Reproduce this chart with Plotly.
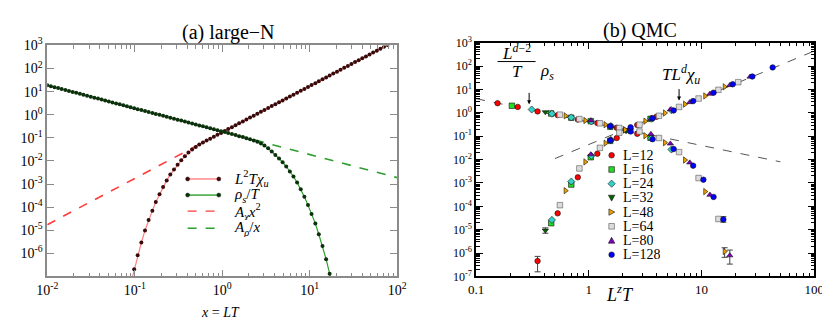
import math
import plotly.graph_objects as go

# ---------------- Panel (a): large-N ----------------
x_grid = [0.01, 0.011, 0.0121, 0.0133, 0.0146, 0.0161, 0.0177, 0.0195, 0.0214, 0.0236,
          0.0259, 0.0285, 0.0314, 0.0345, 0.038, 0.0418, 0.0459, 0.0505, 0.0556, 0.0612,
          0.0673, 0.074, 0.0814, 0.0895, 0.0985, 0.108, 0.119, 0.131, 0.144, 0.159,
          0.174, 0.192, 0.211, 0.232, 0.255, 0.281, 0.309, 0.34, 0.374, 0.411,
          0.453, 0.498, 0.547, 0.602, 0.662, 0.729, 0.802, 0.882, 0.97, 1.07,
          1.17, 1.29, 1.42, 1.56, 1.72, 1.89, 2.08, 2.29, 2.52, 2.77,
          3.04, 3.35, 3.68, 4.05, 4.46, 4.9, 5.39, 5.93, 6.52, 7.18,
          7.9, 8.69, 9.56, 10.5, 11.6, 12.7, 14.0, 15.4, 16.9, 18.6,
          20.5, 22.5, 24.8, 27.3, 30.0, 33.0, 36.3, 39.9, 43.9, 48.3,
          53.1, 58.5, 64.3, 70.7, 77.8]

# log10 of L^2 T chi_u
chi_log = [None] * 23 + [
    -7.35, -6.69, -6.08, -5.53, -5.01, -4.56, -4.15, -3.78, -3.44, -3.13,
    -2.84, -2.59, -2.37, -2.16, -1.97, -1.80, -1.63, -1.50, -1.39, -1.29,
    -1.20, -1.115, -1.033, -0.950, -0.867, -0.784, -0.702, -0.619, -0.536, -0.453,
    -0.370, -0.288, -0.205, -0.122, -0.039, 0.044, 0.126, 0.209, 0.292, 0.375,
    0.458, 0.540, 0.623, 0.706, 0.789, 0.871, 0.954, 1.037, 1.120, 1.203,
    1.285, 1.368, 1.451, 1.534, 1.617, 1.699, 1.782, 1.865, 1.948, 2.030,
    2.113, 2.196, 2.279, 2.362, 2.444, 2.527, 2.610, 2.693, 2.776, 2.858,
    2.941, 3.024]

# log10 of rho_s / T
rho_log = [
    1.279, 1.238, 1.196, 1.155, 1.113, 1.072, 1.031, 0.989, 0.948, 0.906,
    0.865, 0.824, 0.782, 0.741, 0.700, 0.658, 0.617, 0.575, 0.534, 0.493,
    0.451, 0.410, 0.368, 0.327, 0.286, 0.244, 0.203, 0.161, 0.120, 0.079,
    0.037, -0.004, -0.046, -0.087, -0.128, -0.170, -0.211, -0.253, -0.294, -0.335,
    -0.377, -0.418, -0.459, -0.501, -0.542, -0.584, -0.625, -0.666, -0.708, -0.749,
    -0.791, -0.832, -0.873, -0.925, -0.966, -1.013, -1.059, -1.110, -1.172, -1.243,
    -1.335, -1.446, -1.59, -1.74, -1.89, -2.05, -2.24, -2.45, -2.67, -2.93,
    -3.22, -3.55, -3.91, -4.29, -4.71, -5.17, -5.68, -6.25, -6.88, -7.55] + [None] * 15

achi_x = [0.01, 0.6]
achi_y = [1.75e-5, 0.063]
arho_x = [1.5, 100]
arho_y = [0.127, 0.0019]

# ---------------- Panel (b): QMC (log10 values) ----------------
L12_logx = [-0.81, -0.631, -0.455, -0.277, -0.098, 0.075, 0.247, 0.429, 0.60]
L12_rho = [0.41, 0.25, 0.06, -0.10, -0.29, -0.44, -0.64, -0.90, None]
L12_chi = [None, None, -6.34, -4.30, -2.76, -1.75, -1.08, -0.52, -0.17]

L16_logx = [-0.683, -0.334, -0.156, 0.017, 0.19, 0.547]
L16_rho = [0.30, -0.03, -0.21, -0.36, -0.60, -1.07]
L16_chi = [None, -4.72, -3.07, -1.90, -1.20, -0.26]

L24_logx = [-0.507, -0.328, -0.156, 0.022, 0.195, 0.553, 0.732]
L24_rho = [0.14, -0.04, -0.20, -0.37, -0.57, -1.09, -1.57]
L24_chi = [None, -4.58, -2.94, -1.84, -1.17, -0.25, 0.11]

L32_logx = [-0.386, 0.33]
L32_rho = [0.03, -0.74]
L32_chi = [-5.03, -0.78]

L48_logx = [-0.207, -0.032, 0.147, 0.32, 0.50, 0.674, 0.852, 1.031, 1.204]
L48_rho = [-0.13, -0.33, -0.51, -0.73, -0.98, -1.28, -2.02, -3.37, -5.93]
L48_chi = [-3.33, -2.10, -1.30, -0.73, -0.36, -0.01, 0.37, 0.72, 1.11]

L64_logx = [-0.257, -0.084, 0.098, 0.27, 0.449, 0.622, 0.80, 0.973, 1.149, 1.325]
L64_rho = [-0.08, -0.27, -0.45, -0.65, -0.80, -1.08, -1.68, -2.79, -4.54, None]
L64_chi = [-3.95, -2.38, -1.50, -0.85, -0.51, -0.13, 0.25, 0.61, 0.98, 1.31]

L80_logx = [0.017, 0.195, 0.37, 0.55, 0.723, 0.895, 1.074, 1.25, 1.43]
L80_rho = [-0.33, -0.57, -0.80, -0.91, -1.32, -2.13, -3.51, -6.10, None]
L80_chi = [-1.78, -1.14, -0.65, -0.27, 0.14, 0.45, 0.81, 1.18, 1.54]

L128_logx = [0.19, 0.37, 0.565, 0.752, 0.925, 1.016, 1.106, 1.193, 1.276, 1.45, 1.63]
L128_rho = [-0.58, -0.80, -1.13, -1.55, -2.26, -2.86, -3.60, -4.56, None, None, None]
L128_chi = [-1.18, -0.62, -0.23, 0.10, 0.50, None, 0.86, None, 1.22, 1.55, 1.94]

# error bars (log10): position, centre, upper, lower
err_logx = [-0.455, -0.386, 1.193, 1.204, 1.25]
err_logy = [-6.34, -5.03, -4.56, -5.93, -6.10]
err_hi = [-6.14, -4.92, -4.44, -5.77, -5.87]
err_lo = [-6.80, -5.15, -4.68, -6.18, -6.47]

fit_rho_x = [0.1, 50]
fit_rho_y = [4.0, 0.0080]
fit_chi_x = [0.5, 100]
fit_chi_y = [0.011, 440]

series_names = ["L=12", "L=16", "L=24", "L=32", "L=48", "L=64", "L=80", "L=128"]
series_data = [(L12_logx, L12_rho, L12_chi), (L16_logx, L16_rho, L16_chi),
               (L24_logx, L24_rho, L24_chi), (L32_logx, L32_rho, L32_chi),
               (L48_logx, L48_rho, L48_chi), (L64_logx, L64_rho, L64_chi),
               (L80_logx, L80_rho, L80_chi), (L128_logx, L128_rho, L128_chi)]
series_colors = ["#ff0000", "#22dd22", "#33d0c8", "#006400", "#f0a000", "#dcdcdc", "#8000c0", "#0000ff"]
series_symbols = ["circle", "square", "diamond", "triangle-down", "triangle-right", "square", "triangle-up", "circle"]

W, H = 830, 320
SERIF = "Liberation Serif"


def pp(px, py):
    return px / W, 1 - py / H


def unlog(v):
    return None if v is None else 10 ** v


fig = go.Figure()

# ---- panel (a) traces
fig.add_trace(go.Scatter(x=achi_x, y=achi_y, mode="lines", xaxis="x", yaxis="y",
                         line=dict(color="#ff3b3b", width=1.6, dash="dash"), showlegend=False))
fig.add_trace(go.Scatter(x=arho_x, y=arho_y, mode="lines", xaxis="x", yaxis="y",
                         line=dict(color="#2ca02c", width=1.6, dash="dash"), showlegend=False))
fig.add_trace(go.Scatter(x=x_grid, y=[unlog(v) for v in chi_log], mode="lines+markers",
                         xaxis="x", yaxis="y", cliponaxis=True,
                         line=dict(color="#ff8080", width=1.2),
                         marker=dict(size=4, color="#3a0a0a"), showlegend=False))
fig.add_trace(go.Scatter(x=x_grid, y=[unlog(v) for v in rho_log], mode="lines+markers",
                         xaxis="x", yaxis="y", cliponaxis=True,
                         line=dict(color="#2ca02c", width=1.2),
                         marker=dict(size=4, color="#0c300c"), showlegend=False))

# ---- panel (b) traces
fig.add_trace(go.Scatter(x=fit_rho_x, y=fit_rho_y, mode="lines", xaxis="x2", yaxis="y2",
                         line=dict(color="#555555", width=1, dash="dash"), showlegend=False))
fig.add_trace(go.Scatter(x=fit_chi_x, y=fit_chi_y, mode="lines", xaxis="x2", yaxis="y2",
                         line=dict(color="#555555", width=1, dash="dash"), showlegend=False))
fig.add_trace(go.Scatter(
    x=[10 ** v for v in err_logx], y=[10 ** v for v in err_logy], mode="markers",
    xaxis="x2", yaxis="y2", marker=dict(size=1, color="rgba(0,0,0,0)"), showlegend=False,
    error_y=dict(type="data", symmetric=False,
                 array=[10 ** h - 10 ** c for h, c in zip(err_hi, err_logy)],
                 arrayminus=[10 ** c - 10 ** l for l, c in zip(err_lo, err_logy)],
                 color="#444444", thickness=1, width=3)))

for name, (lx, lr, lc), col, sym in zip(series_names, series_data, series_colors, series_symbols):
    xs, ys = [], []
    for xv, rv, cv in zip(lx, lr, lc):
        if rv is not None:
            xs.append(10 ** xv); ys.append(10 ** rv)
        if cv is not None:
            xs.append(10 ** xv); ys.append(10 ** cv)
    fig.add_trace(go.Scatter(x=xs, y=ys, mode="markers", xaxis="x2", yaxis="y2", name=name,
                             marker=dict(size=5.5, color=col, symbol=sym,
                                         line=dict(color="#555555" if name == "L=64" else "#111111", width=0.6)),
                             showlegend=False))


def minor_vals(e0, e1):
    return [d * 10 ** e for e in range(e0, e1) for d in range(2, 10)]


def sup(e):
    return "10<sup>%d</sup>" % e


axis_common = dict(type="log", showgrid=False, zeroline=False, showline=True, mirror="ticks",
                   ticks="inside", tickmode="array")

fig.update_layout(
    width=W, height=H, margin=dict(l=0, r=0, t=0, b=0),
    paper_bgcolor="white", plot_bgcolor="white", showlegend=False,
    font=dict(family=SERIF, color="black"),
    xaxis=dict(axis_common, domain=[29 / W, 388 / W], range=[-2, 2], anchor="y",
               linecolor="#8a8a8a", linewidth=1.5, tickcolor="#8a8a8a", ticklen=7, tickwidth=1.2,
               tickvals=[0.01, 0.1, 1, 10, 100], ticktext=[sup(e) for e in range(-2, 3)],
               tickfont=dict(size=14, family=SERIF),
               minor=dict(ticks="inside", ticklen=4, tickcolor="#8a8a8a", tickmode="array",
                          tickvals=minor_vals(-2, 2), showgrid=False)),
    yaxis=dict(axis_common, domain=[1 - 273 / H, 1 - 29 / H], range=[-7, 3], anchor="x",
               linecolor="#8a8a8a", linewidth=1.5, tickcolor="#8a8a8a", ticklen=7, tickwidth=1.2,
               tickvals=[10 ** e for e in range(-6, 4)], ticktext=[sup(e) for e in range(-6, 4)],
               tickfont=dict(size=14, family=SERIF)),
    xaxis2=dict(axis_common, domain=[469 / W, 816 / W], range=[-1, 2], anchor="y2",
                linecolor="black", linewidth=1.5, tickcolor="black", ticklen=7, tickwidth=1,
                tickvals=[0.1, 1, 10, 100], ticktext=["0.1", "1", "10", "100"],
                tickfont=dict(size=13, family=SERIF),
                minor=dict(ticks="inside", ticklen=4, tickcolor="black", tickmode="array",
                           tickvals=minor_vals(-1, 2), showgrid=False)),
    yaxis2=dict(axis_common, domain=[1 - 273 / H, 1 - 26 / H], range=[-7, 3], anchor="x2",
                linecolor="black", linewidth=1.5, tickcolor="black", ticklen=7, tickwidth=1,
                tickvals=[10 ** e for e in range(-7, 4)], ticktext=[sup(e) for e in range(-7, 4)],
                tickfont=dict(size=12, family=SERIF),
                minor=dict(ticks="inside", ticklen=4, tickcolor="black", tickmode="array",
                           tickvals=minor_vals(-7, 3), showgrid=False)),
)

ann = []
shapes = []


def text(px, py, s, size, xanchor="center", color="black", height=None):
    x, y = pp(px, py)
    a = dict(x=x, y=y, xref="paper", yref="paper", text=s, showarrow=False,
             xanchor=xanchor, yanchor="middle", font=dict(size=size, family=SERIF, color=color))
    if height:
        a["height"] = height
        a["valign"] = "middle"
    ann.append(a)


# titles and axis titles
text(215, 15, "(a) large−N", 20)
text(637, 13, "(b) QMC", 20)
text(207, 311, "<i>x</i> = <i>LT</i>", 14)
text(617, 291, "<i>L<sup>z</sup>T</i>", 18)

# formula labels in panel (b)
text(510, 36, "<i>L<sup>d</sup></i><sup>−2</sup>", 17)
text(511, 57, "<i>T</i>", 17)
text(532, 57, "<i>ρ<sub>s</sub></i>", 17, xanchor="left")
x0, y0 = pp(491, 46)
x1, _ = pp(530, 46)
shapes.append(dict(type="line", xref="paper", yref="paper", x0=x0, x1=x1, y0=y0, y1=y0,
                   line=dict(color="black", width=1)))
text(679, 60, "<i>TL<sup>d</sup>χ<sub>u</sub></i>", 17)

# arrows
ann.append(dict(x=-0.53, y=0.36, xref="x2", yref="y2", text="", showarrow=True, ax=0, ay=-13,
                arrowhead=2, arrowsize=0.8, arrowwidth=1, arrowcolor="black"))
ann.append(dict(x=0.80, y=0.52, xref="x2", yref="y2", text="", showarrow=True, ax=0, ay=-13,
                arrowhead=2, arrowsize=0.8, arrowwidth=1, arrowcolor="black"))

# legend of panel (a)
leg_a_rows = [170, 187, 204, 222]
leg_a_text = ["<i>L</i><sup>2</sup><i>Tχ<sub>u</sub></i>", "<i>ρ<sub>s</sub></i>/<i>T</i>",
              "<i>A<sub>χ</sub>x</i><sup>2</sup>", "<i>A<sub>ρ</sub></i>/<i>x</i>"]
leg_a_line = [("#ff8080", "solid", "#3a0a0a"), ("#2ca02c", "solid", "#0c300c"),
              ("#ff3b3b", "dash", None), ("#2ca02c", "dash", None)]
for py, s, (lc, ld, mc) in zip(leg_a_rows, leg_a_text, leg_a_line):
    xa, ya = pp(173, py)
    xb, _ = pp(205, py)
    shapes.append(dict(type="line", xref="paper", yref="paper", x0=xa, x1=xb, y0=ya, y1=ya,
                       line=dict(color=lc, width=1.4, dash="dash" if ld == "dash" else "solid")))
    if mc:
        for xc in (xa, xb):
            shapes.append(dict(type="circle", xref="paper", yref="paper", xsizemode="pixel",
                               ysizemode="pixel", xanchor=xc, yanchor=ya, x0=-2, x1=2, y0=-2, y1=2,
                               fillcolor=mc, line=dict(color=mc, width=0.5)))
    text(219, py, s, 15, xanchor="left", height=17)

# legend of panel (b)
leg_b_rows = [145, 160, 175, 190, 205, 220, 235, 250]
paths = {
    "square": "M-2.8,-2.8 L2.8,-2.8 L2.8,2.8 L-2.8,2.8 Z",
    "diamond": "M0,3.6 L3.6,0 L0,-3.6 L-3.6,0 Z",
    "triangle-down": "M-3.2,2.7 L3.2,2.7 L0,-3.2 Z",
    "triangle-up": "M-3.2,-2.7 L3.2,-2.7 L0,3.2 Z",
    "triangle-right": "M-2.7,3.2 L-2.7,-3.2 L3.2,0 Z",
}
for py, name, col, sym in zip(leg_b_rows, series_names, series_colors, series_symbols):
    xc, yc = pp(608, py)
    lcol = "#555555" if name == "L=64" else "#111111"
    if sym == "circle":
        shapes.append(dict(type="circle", xref="paper", yref="paper", xsizemode="pixel",
                           ysizemode="pixel", xanchor=xc, yanchor=yc, x0=-2.8, x1=2.8, y0=-2.8, y1=2.8,
                           fillcolor=col, line=dict(color=lcol, width=0.6)))
    else:
        shapes.append(dict(type="path", xref="paper", yref="paper", xsizemode="pixel",
                           ysizemode="pixel", xanchor=xc, yanchor=yc, path=paths[sym],
                           fillcolor=col, line=dict(color=lcol, width=0.6)))
    text(618, py, name, 14, xanchor="left", height=13)

fig.update_layout(annotations=ann, shapes=shapes)
fig.write_html("out.html")
